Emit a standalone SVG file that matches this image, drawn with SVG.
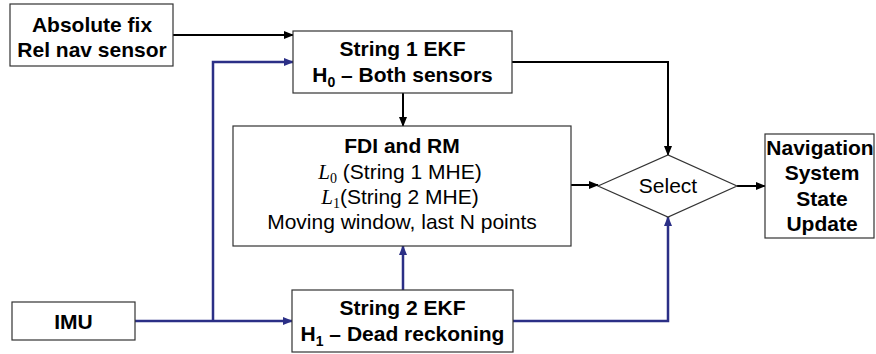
<svg xmlns="http://www.w3.org/2000/svg" width="876" height="354" viewBox="0 0 876 354">
<defs>
<marker id="ab" markerUnits="userSpaceOnUse" markerWidth="10" markerHeight="8" refX="9" refY="4" orient="auto"><path d="M0,0 L10,4 L0,8 z" fill="#000"/></marker>
<marker id="au" markerUnits="userSpaceOnUse" markerWidth="10" markerHeight="8" refX="9" refY="4" orient="auto"><path d="M0,0 L10,4 L0,8 z" fill="#2b2f86"/></marker>
<style>
.box{fill:#fff;stroke:#333;stroke-width:1.2}
.b{font-family:"Liberation Sans",Arial,sans-serif;font-weight:bold;font-size:21px;fill:#000;text-anchor:middle}
.r{font-family:"Liberation Sans",Arial,sans-serif;font-size:21px;fill:#000;text-anchor:middle}
.m{font-family:"Liberation Serif","Times New Roman",serif}
.k{fill:none;stroke:#000;stroke-width:2}
.u{fill:none;stroke:#2b2f86;stroke-width:2.5}
</style>
</defs>
<rect width="876" height="354" fill="#fff"/>
<g id="connectors">
<path class="k" d="M173,35 H293" marker-end="url(#ab)"/>
<path class="u" d="M135,321 H292" marker-end="url(#au)"/>
<path class="u" d="M213,321 V62 H293" marker-end="url(#au)"/>
<path class="k" d="M403,93 V126" marker-end="url(#ab)"/>
<path class="k" d="M512,62 H668 V155" marker-end="url(#ab)"/>
<path class="k" d="M571,185 H598" marker-end="url(#ab)"/>
<path class="k" d="M737,186 H765" marker-end="url(#ab)"/>
<path class="u" d="M403,290 V246" marker-end="url(#au)"/>
<path class="u" d="M513,321 H668 V217" marker-end="url(#au)"/>
</g>
<g id="abs">
<rect class="box" x="10" y="4" width="163" height="62"/>
<text class="b" x="92" y="32">Absolute fix</text>
<text class="b" x="92" y="57">Rel nav sensor</text>
</g>
<g id="string1">
<rect class="box" x="293" y="31" width="219" height="62"/>
<text class="b" x="402.5" y="56">String 1 EKF</text>
<text class="b" x="402.5" y="82">H<tspan font-size="14" dy="5">0</tspan><tspan dy="-5"> – Both sensors</tspan></text>
</g>
<g id="fdi">
<rect class="box" x="233" y="126" width="338" height="120"/>
<text class="b" x="402" y="153">FDI and RM</text>
<text class="r" x="400" y="179"><tspan class="m" font-style="italic">L</tspan><tspan class="m" font-size="14" dy="4">0</tspan><tspan dy="-4"> (String 1 MHE)</tspan></text>
<text class="r" x="400" y="204"><tspan class="m" font-style="italic">L</tspan><tspan class="m" font-size="14" dy="4">1</tspan><tspan dy="-4">(String 2 MHE)</tspan></text>
<text class="r" x="402" y="229">Moving window, last N points</text>
</g>
<g id="select">
<polygon class="box" points="598,186 668,155 737,186 668,217"/>
<text class="r" x="668" y="193">Select</text>
</g>
<g id="nav">
<rect class="box" x="765" y="134" width="109" height="104"/>
<text class="b" x="820" y="155">Navigation</text>
<text class="b" x="822" y="180">System</text>
<text class="b" x="822" y="206">State</text>
<text class="b" x="822" y="231">Update</text>
</g>
<g id="imu">
<rect class="box" x="12" y="302" width="123" height="38"/>
<text class="b" x="73.5" y="329">IMU</text>
</g>
<g id="string2">
<rect class="box" x="292" y="290" width="221" height="62"/>
<text class="b" x="402.5" y="315">String 2 EKF</text>
<text class="b" x="402.5" y="341">H<tspan font-size="14" dy="5">1</tspan><tspan dy="-5"> – Dead reckoning</tspan></text>
</g>
</svg>
